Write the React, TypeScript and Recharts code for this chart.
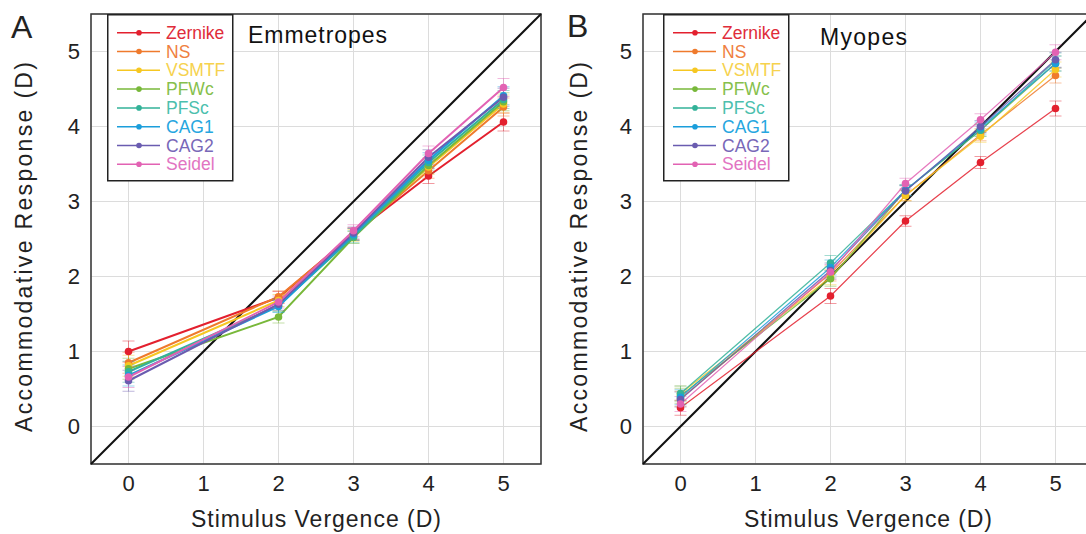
import React from "react";
import {
  LineChart,
  Line,
  XAxis,
  YAxis,
  CartesianGrid,
  ReferenceLine,
  ReferenceArea,
  ErrorBar,
  Legend,
  Label,
} from "recharts";

const FONT = "'Liberation Sans', Arial, sans-serif";

const stimulus = [0, 2, 3, 4, 5];
const axisTicks = [0, 1, 2, 3, 4, 5];
const methods = ["Zernike", "NS", "VSMTF", "PFWc", "PFSc", "CAG1", "CAG2", "Seidel"];
const lineColors = ["#e3202e", "#ef7a2c", "#f6c722", "#78b83a", "#33b298", "#1b9edb", "#6a5cb0", "#e262b3"];
const textColors = ["#e02c3a", "#ef8040", "#f6d24e", "#86c04c", "#4cbfae", "#26a6e0", "#7868b8", "#e274c2"];

// Emmetropes
const zernikeA = [1.0, 1.72, 2.57, 3.34, 4.06];
const nsA = [0.85, 1.73, 2.56, 3.41, 4.26];
const vsmtfA = [0.81, 1.68, 2.55, 3.46, 4.3];
const pfwcA = [0.77, 1.46, 2.52, 3.48, 4.33];
const pfscA = [0.73, 1.61, 2.53, 3.52, 4.36];
const cag1A = [0.68, 1.6, 2.56, 3.55, 4.41];
const cag2A = [0.61, 1.63, 2.58, 3.59, 4.39];
const seidelA = [0.66, 1.66, 2.61, 3.64, 4.52];
const errA = [0.14, 0.08, 0.08, 0.1, 0.12];

// Myopes
const zernikeB = [0.25, 1.74, 2.74, 3.52, 4.24];
const nsB = [0.37, 2.04, 3.08, 3.89, 4.68];
const vsmtfB = [0.44, 1.99, 3.08, 3.87, 4.76];
const pfwcB = [0.41, 1.97, 3.15, 3.95, 4.84];
const pfscB = [0.44, 2.18, 3.15, 3.95, 4.88];
const cag1B = [0.39, 2.12, 3.15, 3.98, 4.84];
const cag2B = [0.36, 2.08, 3.14, 4.0, 4.89];
const seidelB = [0.3, 2.06, 3.24, 4.09, 4.99];
const errB = [0.1, 0.1, 0.07, 0.08, 0.1];

const seriesA = [zernikeA, nsA, vsmtfA, pfwcA, pfscA, cag1A, cag2A, seidelA];
const seriesB = [zernikeB, nsB, vsmtfB, pfwcB, pfscB, cag1B, cag2B, seidelB];

function buildRows(series: number[][], err: number[]) {
  return stimulus.map((x, i) => {
    const row: Record<string, number> = { x, err: err[i] };
    methods.forEach((m, k) => {
      row[m] = series[k][i];
    });
    return row;
  });
}

const rowsA = buildRows(seriesA, errA);
const rowsB = buildRows(seriesB, errB);

const LegendBox = () => (
  <svg width={127} height={168} style={{ display: "block" }}>
    <rect x={0.75} y={0.75} width={125} height={166} fill="#fff" stroke="#222" strokeWidth={1.5} />
    {methods.map((m, i) => {
      const cy = 18.7 + i * 18.8;
      return (
        <g key={m}>
          <line x1={10} x2={53} y1={cy} y2={cy} stroke={lineColors[i]} strokeWidth={1.5} />
          <circle cx={32} cy={cy} r={2.8} fill={lineColors[i]} />
          <text x={59} y={cy + 6} fontSize={17.5} fontFamily={FONT} fill={textColors[i]}>
            {m}
          </text>
        </g>
      );
    })}
  </svg>
);

interface PanelProps {
  rows: Record<string, number>[];
  thin: boolean;
  legendLeft: number;
  xLabelLen: number;
  yLabelDx: number;
}

const Panel = ({ rows, thin, legendLeft, xLabelLen, yLabelDx }: PanelProps) => (
  <LineChart width={560} height={534} data={rows} margin={{ top: 14, right: 19, bottom: 0, left: 11 }}>
    <CartesianGrid stroke="#dcdcdc" strokeWidth={1} />
    <XAxis
      dataKey="x"
      type="number"
      domain={[-0.5, 5.5]}
      ticks={axisTicks}
      interval={0}
      allowDataOverflow
      height={70}
      tickLine={false}
      tickSize={0}
      tickMargin={11}
      axisLine={false}
      tick={{ fontSize: 22, fill: "#222", fontFamily: FONT }}
    >
      <Label
        content={(props: any) => {
          const vb = props.viewBox;
          return (
            <text
              x={vb.x + vb.width / 2}
              y={vb.y + 63}
              textAnchor="middle"
              fontSize={23}
              fontFamily={FONT}
              fill="#222"
              textLength={xLabelLen}
              lengthAdjust="spacing"
            >
              Stimulus Vergence (D)
            </text>
          );
        }}
      />
    </XAxis>
    <YAxis
      type="number"
      domain={[-0.5, 5.5]}
      ticks={axisTicks}
      interval={0}
      allowDataOverflow
      width={80}
      tickLine={false}
      tickSize={0}
      tickMargin={11}
      axisLine={false}
      tick={{ fontSize: 22, fill: "#222", fontFamily: FONT }}
    >
      <Label
        content={(props: any) => {
          const vb = props.viewBox;
          const cx = vb.x + yLabelDx;
          const cy = vb.y + vb.height / 2 + 8;
          return (
            <text
              x={cx}
              y={cy}
              transform={`rotate(-90, ${cx}, ${cy})`}
              textAnchor="middle"
              dominantBaseline="central"
              fontSize={23}
              fontFamily={FONT}
              fill="#222"
              textLength={370}
              lengthAdjust="spacing"
            >
              Accommodative Response (D)
            </text>
          );
        }}
      />
    </YAxis>
    <ReferenceLine
      segment={[
        { x: -0.5, y: -0.5 },
        { x: 5.5, y: 5.5 },
      ]}
      stroke="#111"
      strokeWidth={2}
      ifOverflow="visible"
    />
    {methods.map((m, i) => (
      <Line
        key={m}
        type="linear"
        dataKey={m}
        name={m}
        stroke={lineColors[i]}
        strokeWidth={thin ? 1.2 : 2}
        strokeOpacity={thin ? 0.85 : 1}
        dot={{ r: 3.8, fill: lineColors[i], stroke: lineColors[i], strokeWidth: 0 }}
        activeDot={false}
        isAnimationActive={false}
      >
        <ErrorBar dataKey="err" width={6} stroke={lineColors[i]} strokeOpacity={0.45} strokeWidth={1} direction="y" />
      </Line>
    ))}
    <ReferenceArea
      x1={-0.5}
      x2={5.5}
      y1={-0.5}
      y2={5.5}
      fill="none"
      fillOpacity={0}
      stroke="#333"
      strokeWidth={1.5}
      ifOverflow="visible"
    />
    <Legend
      layout="vertical"
      align="center"
      verticalAlign="middle"
      content={() => <LegendBox />}
      wrapperStyle={{ position: "absolute", left: legendLeft, top: 14, width: 127, height: 168 }}
    />
  </LineChart>
);

export default function App() {
  return (
    <div
      style={{
        position: "absolute",
        left: 0,
        top: 0,
        width: 1086,
        height: 534,
        overflow: "hidden",
        background: "#fff",
        fontFamily: FONT,
      }}
    >
      <div style={{ position: "absolute", left: 0, top: 0 }}>
        <Panel rows={rowsA} thin={false} legendLeft={107} xLabelLen={250} yLabelDx={13} />
      </div>
      <div style={{ position: "absolute", left: 552, top: 0 }}>
        <Panel rows={rowsB} thin={true} legendLeft={111} xLabelLen={248} yLabelDx={16} />
      </div>
      <svg
        width={1086}
        height={534}
        style={{ position: "absolute", left: 0, top: 0, pointerEvents: "none" }}
      >
        <text x={11} y={38} fontSize={32} fontFamily={FONT} fill="#222">
          A
        </text>
        <text x={567} y={37} fontSize={32} fontFamily={FONT} fill="#222">
          B
        </text>
        <text x={248} y={43} fontSize={23} fontFamily={FONT} fill="#111" textLength={139} lengthAdjust="spacing">
          Emmetropes
        </text>
        <text x={820} y={45} fontSize={23} fontFamily={FONT} fill="#111" textLength={87} lengthAdjust="spacing">
          Myopes
        </text>
      </svg>
    </div>
  );
}
